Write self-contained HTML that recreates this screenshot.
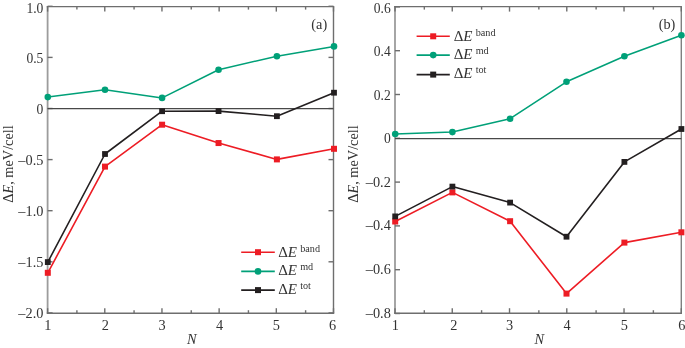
<!DOCTYPE html>
<html><head><meta charset="utf-8"><style>
html,body{margin:0;padding:0;background:#fff;}
body{width:685px;height:348px;overflow:hidden;}
svg{display:block;filter:blur(0.35px);}
.t{font-family:"Liberation Serif",serif;font-size:14.3px;fill:#333333;}
.lg{font-family:"Liberation Serif",serif;font-size:15px;fill:#333333;}
.sup{font-family:"Liberation Serif",serif;font-size:10.2px;fill:#333333;}
</style></head><body>
<svg width="685" height="348" viewBox="0 0 685 348">
<line x1="47.6" y1="6.6" x2="47.6" y2="313.2" stroke="#9c9c9c" stroke-width="1.8"/>
<line x1="46.7" y1="6.6" x2="334.2" y2="6.6" stroke="#6e6e6e" stroke-width="1.4"/>
<line x1="46.7" y1="313.2" x2="334.2" y2="313.2" stroke="#6e6e6e" stroke-width="1.4"/>
<line x1="333.5" y1="6.6" x2="333.5" y2="313.2" stroke="#6e6e6e" stroke-width="1.4"/>
<line x1="47.60" y1="313.2" x2="47.60" y2="308.2" stroke="#6e6e6e" stroke-width="1.4"/>
<line x1="47.60" y1="6.6" x2="47.60" y2="11.6" stroke="#6e6e6e" stroke-width="1.4"/>
<text x="47.90" y="329.5" text-anchor="middle" class="t">1</text>
<line x1="104.78" y1="313.2" x2="104.78" y2="308.2" stroke="#6e6e6e" stroke-width="1.4"/>
<line x1="104.78" y1="6.6" x2="104.78" y2="11.6" stroke="#6e6e6e" stroke-width="1.4"/>
<text x="105.38" y="329.5" text-anchor="middle" class="t">2</text>
<line x1="161.96" y1="313.2" x2="161.96" y2="308.2" stroke="#6e6e6e" stroke-width="1.4"/>
<line x1="161.96" y1="6.6" x2="161.96" y2="11.6" stroke="#6e6e6e" stroke-width="1.4"/>
<text x="161.96" y="329.5" text-anchor="middle" class="t">3</text>
<line x1="219.14" y1="313.2" x2="219.14" y2="308.2" stroke="#6e6e6e" stroke-width="1.4"/>
<line x1="219.14" y1="6.6" x2="219.14" y2="11.6" stroke="#6e6e6e" stroke-width="1.4"/>
<text x="219.54" y="329.5" text-anchor="middle" class="t">4</text>
<line x1="276.32" y1="313.2" x2="276.32" y2="308.2" stroke="#6e6e6e" stroke-width="1.4"/>
<line x1="276.32" y1="6.6" x2="276.32" y2="11.6" stroke="#6e6e6e" stroke-width="1.4"/>
<text x="276.32" y="329.5" text-anchor="middle" class="t">5</text>
<line x1="333.50" y1="313.2" x2="333.50" y2="308.2" stroke="#6e6e6e" stroke-width="1.4"/>
<line x1="333.50" y1="6.6" x2="333.50" y2="11.6" stroke="#6e6e6e" stroke-width="1.4"/>
<text x="332.50" y="329.5" text-anchor="middle" class="t">6</text>
<line x1="76.89" y1="313.2" x2="76.89" y2="310.2" stroke="#6e6e6e" stroke-width="1.4"/>
<line x1="76.89" y1="6.6" x2="76.89" y2="9.6" stroke="#6e6e6e" stroke-width="1.4"/>
<line x1="134.07" y1="313.2" x2="134.07" y2="310.2" stroke="#6e6e6e" stroke-width="1.4"/>
<line x1="134.07" y1="6.6" x2="134.07" y2="9.6" stroke="#6e6e6e" stroke-width="1.4"/>
<line x1="191.25" y1="313.2" x2="191.25" y2="310.2" stroke="#6e6e6e" stroke-width="1.4"/>
<line x1="191.25" y1="6.6" x2="191.25" y2="9.6" stroke="#6e6e6e" stroke-width="1.4"/>
<line x1="248.43" y1="313.2" x2="248.43" y2="310.2" stroke="#6e6e6e" stroke-width="1.4"/>
<line x1="248.43" y1="6.6" x2="248.43" y2="9.6" stroke="#6e6e6e" stroke-width="1.4"/>
<line x1="305.61" y1="313.2" x2="305.61" y2="310.2" stroke="#6e6e6e" stroke-width="1.4"/>
<line x1="305.61" y1="6.6" x2="305.61" y2="9.6" stroke="#6e6e6e" stroke-width="1.4"/>
<line x1="47.6" y1="6.30" x2="52.6" y2="6.30" stroke="#6e6e6e" stroke-width="1.4"/>
<line x1="333.5" y1="6.30" x2="328.5" y2="6.30" stroke="#6e6e6e" stroke-width="1.4"/>
<text transform="translate(43.40,13) scale(0.95,1)" text-anchor="end" class="t">1.0</text>
<line x1="47.6" y1="57.40" x2="52.6" y2="57.40" stroke="#6e6e6e" stroke-width="1.4"/>
<line x1="333.5" y1="57.40" x2="328.5" y2="57.40" stroke="#6e6e6e" stroke-width="1.4"/>
<text transform="translate(43.40,63) scale(0.95,1)" text-anchor="end" class="t">0.5</text>
<line x1="47.6" y1="108.50" x2="52.6" y2="108.50" stroke="#6e6e6e" stroke-width="1.4"/>
<line x1="333.5" y1="108.50" x2="328.5" y2="108.50" stroke="#6e6e6e" stroke-width="1.4"/>
<text transform="translate(43.40,114) scale(0.95,1)" text-anchor="end" class="t">0</text>
<line x1="47.6" y1="159.60" x2="52.6" y2="159.60" stroke="#6e6e6e" stroke-width="1.4"/>
<line x1="333.5" y1="159.60" x2="328.5" y2="159.60" stroke="#6e6e6e" stroke-width="1.4"/>
<text transform="translate(43.40,165) scale(1.0,1)" text-anchor="end" class="t">–0.5</text>
<line x1="47.6" y1="210.70" x2="52.6" y2="210.70" stroke="#6e6e6e" stroke-width="1.4"/>
<line x1="333.5" y1="210.70" x2="328.5" y2="210.70" stroke="#6e6e6e" stroke-width="1.4"/>
<text transform="translate(43.40,216) scale(1.0,1)" text-anchor="end" class="t">–1.0</text>
<line x1="47.6" y1="261.80" x2="52.6" y2="261.80" stroke="#6e6e6e" stroke-width="1.4"/>
<line x1="333.5" y1="261.80" x2="328.5" y2="261.80" stroke="#6e6e6e" stroke-width="1.4"/>
<text transform="translate(43.40,267) scale(1.0,1)" text-anchor="end" class="t">–1.5</text>
<line x1="47.6" y1="312.90" x2="52.6" y2="312.90" stroke="#6e6e6e" stroke-width="1.4"/>
<line x1="333.5" y1="312.90" x2="328.5" y2="312.90" stroke="#6e6e6e" stroke-width="1.4"/>
<text transform="translate(43.40,318) scale(1.0,1)" text-anchor="end" class="t">–2.0</text>
<line x1="47.6" y1="108.6" x2="333.5" y2="108.6" stroke="#484848" stroke-width="1.25"/>
<polyline points="47.80,272.8 105.00,166.6 162.10,124.7 218.55,143.05 276.90,159.4 334.00,148.8" fill="none" stroke="#ed1c24" stroke-width="1.6" stroke-linejoin="round"/>
<polyline points="47.80,97.1 105.00,89.7 162.10,97.9 218.55,69.7 276.90,56.2 334.00,46.4" fill="none" stroke="#00a078" stroke-width="1.55" stroke-linejoin="round"/>
<polyline points="47.80,262.1 105.00,154 162.10,111.2 218.55,111.1 276.90,116.2 334.00,92.7" fill="none" stroke="#231f20" stroke-width="1.6" stroke-linejoin="round"/>
<rect x="44.80" y="269.80" width="6" height="6" fill="#ed1c24"/>
<rect x="102.00" y="163.60" width="6" height="6" fill="#ed1c24"/>
<rect x="159.10" y="121.70" width="6" height="6" fill="#ed1c24"/>
<rect x="215.55" y="140.05" width="6" height="6" fill="#ed1c24"/>
<rect x="273.90" y="156.40" width="6" height="6" fill="#ed1c24"/>
<rect x="331.00" y="145.80" width="6" height="6" fill="#ed1c24"/>
<circle cx="47.80" cy="97.1" r="3.3" fill="#00a078"/>
<circle cx="105.00" cy="89.7" r="3.3" fill="#00a078"/>
<circle cx="162.10" cy="97.9" r="3.3" fill="#00a078"/>
<circle cx="218.55" cy="69.7" r="3.3" fill="#00a078"/>
<circle cx="276.90" cy="56.2" r="3.3" fill="#00a078"/>
<circle cx="334.00" cy="46.4" r="3.3" fill="#00a078"/>
<rect x="44.90" y="259.20" width="5.8" height="5.8" fill="#231f20"/>
<rect x="102.10" y="151.10" width="5.8" height="5.8" fill="#231f20"/>
<rect x="159.20" y="108.30" width="5.8" height="5.8" fill="#231f20"/>
<rect x="215.65" y="108.20" width="5.8" height="5.8" fill="#231f20"/>
<rect x="274.00" y="113.30" width="5.8" height="5.8" fill="#231f20"/>
<rect x="331.10" y="89.80" width="5.8" height="5.8" fill="#231f20"/>
<text x="319.3" y="28.9" text-anchor="middle" class="t">(a)</text>
<text x="191.75" y="344.1" text-anchor="middle" class="t" font-size="15.5" font-style="italic">N</text>
<text transform="translate(12.7,164) rotate(-90)" text-anchor="middle" class="t" font-size="14.4">Δ<tspan font-style="italic">E</tspan>, meV/cell</text>
<line x1="241.2" y1="252.2" x2="274.8" y2="252.2" stroke="#ed1c24" stroke-width="1.6"/>
<rect x="255.00" y="249.20" width="6" height="6" fill="#ed1c24"/>
<text x="278.2" y="256.60" class="lg">Δ<tspan font-style="italic">E</tspan></text>
<text x="300.2" y="251.60" class="sup">band</text>
<line x1="241.2" y1="271.4" x2="274.8" y2="271.4" stroke="#00a078" stroke-width="1.6"/>
<circle cx="258.00" cy="271.4" r="3.3" fill="#00a078"/>
<text x="278.2" y="275.20" class="lg">Δ<tspan font-style="italic">E</tspan></text>
<text x="300.2" y="270.20" class="sup">md</text>
<line x1="241.2" y1="290.1" x2="274.8" y2="290.1" stroke="#231f20" stroke-width="1.6"/>
<rect x="255.00" y="287.10" width="6" height="6" fill="#231f20"/>
<text x="278.2" y="293.90" class="lg">Δ<tspan font-style="italic">E</tspan></text>
<text x="300.2" y="288.90" class="sup">tot</text>
<line x1="395.0" y1="6.6" x2="395.0" y2="313.2" stroke="#9c9c9c" stroke-width="1.8"/>
<line x1="394.1" y1="6.6" x2="682.0" y2="6.6" stroke="#6e6e6e" stroke-width="1.4"/>
<line x1="394.1" y1="313.2" x2="682.0" y2="313.2" stroke="#6e6e6e" stroke-width="1.4"/>
<line x1="681.3" y1="6.6" x2="681.3" y2="313.2" stroke="#808080" stroke-width="1.4"/>
<line x1="395.00" y1="313.2" x2="395.00" y2="308.2" stroke="#6e6e6e" stroke-width="1.4"/>
<line x1="395.00" y1="6.6" x2="395.00" y2="11.6" stroke="#6e6e6e" stroke-width="1.4"/>
<text x="395.30" y="329.5" text-anchor="middle" class="t">1</text>
<line x1="452.26" y1="313.2" x2="452.26" y2="308.2" stroke="#6e6e6e" stroke-width="1.4"/>
<line x1="452.26" y1="6.6" x2="452.26" y2="11.6" stroke="#6e6e6e" stroke-width="1.4"/>
<text x="453.76" y="329.5" text-anchor="middle" class="t">2</text>
<line x1="509.52" y1="313.2" x2="509.52" y2="308.2" stroke="#6e6e6e" stroke-width="1.4"/>
<line x1="509.52" y1="6.6" x2="509.52" y2="11.6" stroke="#6e6e6e" stroke-width="1.4"/>
<text x="509.52" y="329.5" text-anchor="middle" class="t">3</text>
<line x1="566.78" y1="313.2" x2="566.78" y2="308.2" stroke="#6e6e6e" stroke-width="1.4"/>
<line x1="566.78" y1="6.6" x2="566.78" y2="11.6" stroke="#6e6e6e" stroke-width="1.4"/>
<text x="567.18" y="329.5" text-anchor="middle" class="t">4</text>
<line x1="624.04" y1="313.2" x2="624.04" y2="308.2" stroke="#6e6e6e" stroke-width="1.4"/>
<line x1="624.04" y1="6.6" x2="624.04" y2="11.6" stroke="#6e6e6e" stroke-width="1.4"/>
<text x="624.24" y="329.5" text-anchor="middle" class="t">5</text>
<line x1="681.30" y1="313.2" x2="681.30" y2="308.2" stroke="#6e6e6e" stroke-width="1.4"/>
<line x1="681.30" y1="6.6" x2="681.30" y2="11.6" stroke="#6e6e6e" stroke-width="1.4"/>
<text x="681.80" y="329.5" text-anchor="middle" class="t">6</text>
<line x1="424.33" y1="313.2" x2="424.33" y2="310.2" stroke="#6e6e6e" stroke-width="1.4"/>
<line x1="424.33" y1="6.6" x2="424.33" y2="9.6" stroke="#6e6e6e" stroke-width="1.4"/>
<line x1="481.59" y1="313.2" x2="481.59" y2="310.2" stroke="#6e6e6e" stroke-width="1.4"/>
<line x1="481.59" y1="6.6" x2="481.59" y2="9.6" stroke="#6e6e6e" stroke-width="1.4"/>
<line x1="538.85" y1="313.2" x2="538.85" y2="310.2" stroke="#6e6e6e" stroke-width="1.4"/>
<line x1="538.85" y1="6.6" x2="538.85" y2="9.6" stroke="#6e6e6e" stroke-width="1.4"/>
<line x1="596.11" y1="313.2" x2="596.11" y2="310.2" stroke="#6e6e6e" stroke-width="1.4"/>
<line x1="596.11" y1="6.6" x2="596.11" y2="9.6" stroke="#6e6e6e" stroke-width="1.4"/>
<line x1="653.37" y1="313.2" x2="653.37" y2="310.2" stroke="#6e6e6e" stroke-width="1.4"/>
<line x1="653.37" y1="6.6" x2="653.37" y2="9.6" stroke="#6e6e6e" stroke-width="1.4"/>
<line x1="395.0" y1="6.90" x2="400.0" y2="6.90" stroke="#6e6e6e" stroke-width="1.4"/>
<text transform="translate(390.80,13) scale(0.95,1)" text-anchor="end" class="t">0.6</text>
<line x1="395.0" y1="50.70" x2="400.0" y2="50.70" stroke="#6e6e6e" stroke-width="1.4"/>
<text transform="translate(390.80,56) scale(0.95,1)" text-anchor="end" class="t">0.4</text>
<line x1="395.0" y1="94.50" x2="400.0" y2="94.50" stroke="#6e6e6e" stroke-width="1.4"/>
<text transform="translate(390.80,100) scale(0.95,1)" text-anchor="end" class="t">0.2</text>
<line x1="395.0" y1="138.30" x2="400.0" y2="138.30" stroke="#6e6e6e" stroke-width="1.4"/>
<text transform="translate(390.80,143) scale(0.95,1)" text-anchor="end" class="t">0</text>
<line x1="395.0" y1="182.10" x2="400.0" y2="182.10" stroke="#6e6e6e" stroke-width="1.4"/>
<text transform="translate(390.80,187) scale(1.0,1)" text-anchor="end" class="t">–0.2</text>
<line x1="395.0" y1="225.90" x2="400.0" y2="225.90" stroke="#6e6e6e" stroke-width="1.4"/>
<text transform="translate(390.80,230) scale(1.0,1)" text-anchor="end" class="t">–0.4</text>
<line x1="395.0" y1="269.70" x2="400.0" y2="269.70" stroke="#6e6e6e" stroke-width="1.4"/>
<text transform="translate(390.80,274) scale(1.0,1)" text-anchor="end" class="t">–0.6</text>
<line x1="395.0" y1="313.50" x2="400.0" y2="313.50" stroke="#6e6e6e" stroke-width="1.4"/>
<text transform="translate(390.80,318) scale(1.0,1)" text-anchor="end" class="t">–0.8</text>
<line x1="395.0" y1="138.6" x2="681.3" y2="138.6" stroke="#484848" stroke-width="1.25"/>
<polyline points="395.20,221.5 452.40,192.4 510.10,221.2 566.50,293.6 624.40,242.6 681.40,232.3" fill="none" stroke="#ed1c24" stroke-width="1.6" stroke-linejoin="round"/>
<polyline points="395.20,134 452.40,132.1 510.10,118.7 566.50,81.8 624.40,56.3 681.40,35.2" fill="none" stroke="#00a078" stroke-width="1.55" stroke-linejoin="round"/>
<polyline points="395.20,216.4 452.40,186.6 510.10,202.6 566.50,236.7 624.40,161.9 681.40,129" fill="none" stroke="#231f20" stroke-width="1.6" stroke-linejoin="round"/>
<rect x="392.20" y="218.50" width="6" height="6" fill="#ed1c24"/>
<rect x="449.40" y="189.40" width="6" height="6" fill="#ed1c24"/>
<rect x="507.10" y="218.20" width="6" height="6" fill="#ed1c24"/>
<rect x="563.50" y="290.60" width="6" height="6" fill="#ed1c24"/>
<rect x="621.40" y="239.60" width="6" height="6" fill="#ed1c24"/>
<rect x="678.40" y="229.30" width="6" height="6" fill="#ed1c24"/>
<circle cx="395.20" cy="134" r="3.3" fill="#00a078"/>
<circle cx="452.40" cy="132.1" r="3.3" fill="#00a078"/>
<circle cx="510.10" cy="118.7" r="3.3" fill="#00a078"/>
<circle cx="566.50" cy="81.8" r="3.3" fill="#00a078"/>
<circle cx="624.40" cy="56.3" r="3.3" fill="#00a078"/>
<circle cx="681.40" cy="35.2" r="3.3" fill="#00a078"/>
<rect x="392.30" y="213.50" width="5.8" height="5.8" fill="#231f20"/>
<rect x="449.50" y="183.70" width="5.8" height="5.8" fill="#231f20"/>
<rect x="507.20" y="199.70" width="5.8" height="5.8" fill="#231f20"/>
<rect x="563.60" y="233.80" width="5.8" height="5.8" fill="#231f20"/>
<rect x="621.50" y="159.00" width="5.8" height="5.8" fill="#231f20"/>
<rect x="678.50" y="126.10" width="5.8" height="5.8" fill="#231f20"/>
<text x="667" y="28.9" text-anchor="middle" class="t">(b)</text>
<text x="539.35" y="344.1" text-anchor="middle" class="t" font-size="15.5" font-style="italic">N</text>
<text transform="translate(357.7,164) rotate(-90)" text-anchor="middle" class="t" font-size="14.4">Δ<tspan font-style="italic">E</tspan>, meV/cell</text>
<line x1="416.6" y1="36.3" x2="449.8" y2="36.3" stroke="#ed1c24" stroke-width="1.6"/>
<rect x="430.20" y="33.30" width="6" height="6" fill="#ed1c24"/>
<text x="453.7" y="40.70" class="lg">Δ<tspan font-style="italic">E</tspan></text>
<text x="475.7" y="35.70" class="sup">band</text>
<line x1="416.6" y1="55.1" x2="449.8" y2="55.1" stroke="#00a078" stroke-width="1.6"/>
<circle cx="433.20" cy="55.1" r="3.3" fill="#00a078"/>
<text x="453.7" y="58.90" class="lg">Δ<tspan font-style="italic">E</tspan></text>
<text x="475.7" y="53.90" class="sup">md</text>
<line x1="416.6" y1="74.6" x2="449.8" y2="74.6" stroke="#231f20" stroke-width="1.6"/>
<rect x="430.20" y="71.60" width="6" height="6" fill="#231f20"/>
<text x="453.7" y="78.40" class="lg">Δ<tspan font-style="italic">E</tspan></text>
<text x="475.7" y="73.40" class="sup">tot</text>
</svg>
</body></html>
